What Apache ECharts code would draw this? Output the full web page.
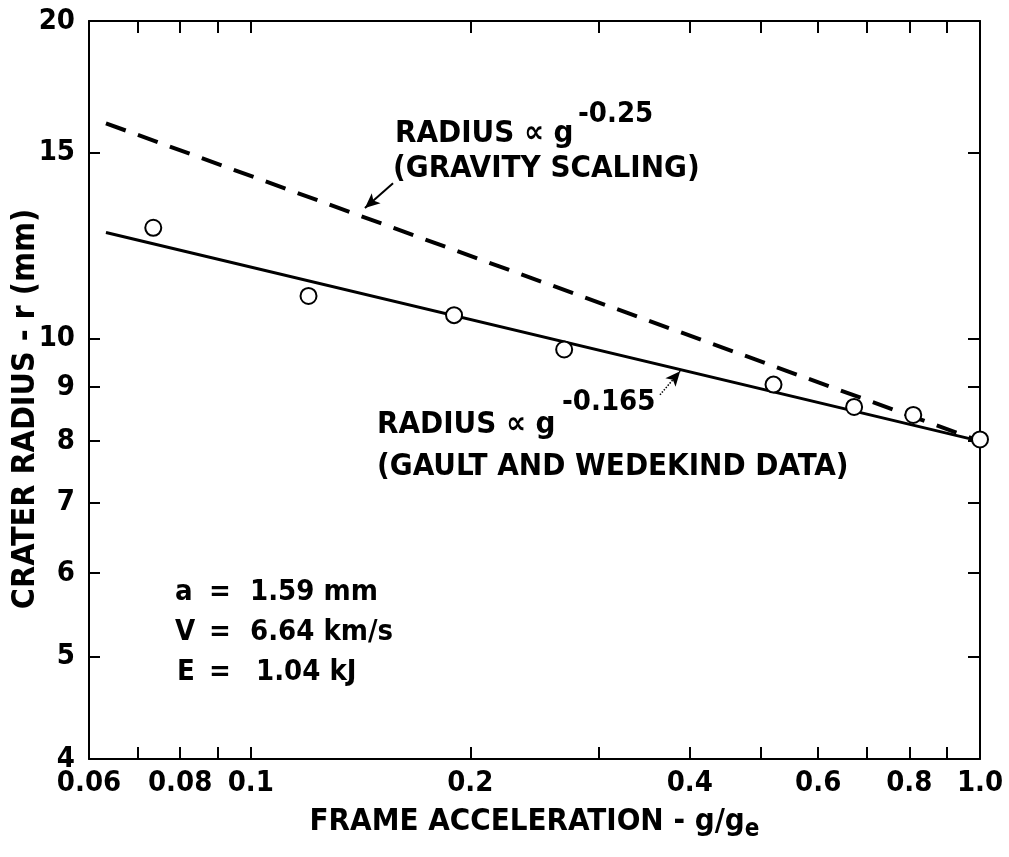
<!DOCTYPE html>
<html>
<head>
<meta charset="utf-8">
<script src="https://cdn.jsdelivr.net/npm/echarts@6/dist/echarts.min.js"></script>
<style>
  html, body { margin: 0; padding: 0; background: #fff; }
  #main { width: 1009px; height: 857px; }
</style>
</head>
<body>
<div id="main"></div>
<script>
// measured points (frame acceleration g/ge, crater radius mm)
const accel = [0.0735, 0.120, 0.190, 0.269, 0.521, 0.672, 0.810, 1.0];
const radius = [12.74, 10.98, 10.53, 9.77, 9.05, 8.62, 8.47, 8.03];

// fitted lines, end points
const fitG = [0.0633, 1.0];
const fitR = [12.61, 8.0];      // r ~ g^-0.165
const gravR = [16.0, 8.0];      // r ~ g^-0.25

// leader arrows [tail, tip]
const arrowGravity = [[0.1567, 14.04], [0.1434, 13.30]];
const arrowFit = [[0.364, 8.85], [0.388, 9.32]];

// axis ticks and labels
const xTicks = [0.07, 0.08, 0.09, 0.1, 0.2, 0.3, 0.4, 0.5, 0.6, 0.7, 0.8, 0.9];
const xLabels = [0.06, 0.08, 0.1, 0.2, 0.4, 0.6, 0.8, 1.0];
const yTicks = [5, 6, 7, 8, 9, 10, 15];
const yLabels = [4, 5, 6, 7, 8, 9, 10, 15, 20];

const FONT = 'DejaVu Sans Condensed';

document.addEventListener('DOMContentLoaded', function() {
    var chartDom = document.getElementById('main');
    var myChart = echarts.init(chartDom);

    const points = accel.map((g, i) => [g, radius[i]]);
    const fitLine = fitG.map((g, i) => [g, fitR[i]]);
    const gravLine = fitG.map((g, i) => [g, gravR[i]]);

    const axisLine = { show: true, lineStyle: { color: '#000', width: 2 } };
    const tickStyle = { color: '#000', width: 2 };

    const arrowLine = (pair, type) => [
        { coord: pair[0], symbol: 'none' },
        { coord: pair[1], symbol: 'arrow', symbolSize: [10, 15],
          lineStyle: { color: '#000', width: type === 'solid' ? 2 : 1.5, type: type } }
    ];

    const txt = (x, y, text, size, align) => ({
        type: 'text', x: x, y: y,
        style: { text: text, fill: '#000', font: 'bold ' + size + 'px "' + FONT + '"',
                 textAlign: align || 'left', textVerticalAlign: 'middle' }
    });

    var option = {
        animation: false,
        backgroundColor: '#fff',
        grid: { left: 89, right: 29, top: 21, bottom: 98 },
        xAxis: [
            {
                type: 'log', logBase: 10, min: 0.06, max: 1.0,
                position: 'bottom',
                axisLine: axisLine,
                axisTick: { show: true, inside: true, length: 12, lineStyle: tickStyle, customValues: xTicks },
                axisLabel: {
                    show: true, customValues: xLabels, margin: 10,
                    color: '#000', fontFamily: FONT, fontWeight: 'bold', fontSize: 29,
                    formatter: v => (v === 1 ? '1.0' : String(+v.toFixed(2)))
                },
                splitLine: { show: false },
                name: '{t|FRAME ACCELERATION - g/g}{s|e}',
                nameLocation: 'middle', nameGap: 43,
                nameTextStyle: {
                    rich: {
                        t: { fontFamily: FONT, fontWeight: 'bold', fontSize: 31, color: '#000' },
                        s: { fontFamily: FONT, fontWeight: 'bold', fontSize: 24, color: '#000', padding: [16, 0, 0, 0] }
                    }
                }
            },
            {
                type: 'log', logBase: 10, min: 0.06, max: 1.0,
                position: 'top',
                axisLine: axisLine,
                axisTick: { show: true, inside: true, length: 12, lineStyle: tickStyle, customValues: xTicks },
                axisLabel: { show: false },
                splitLine: { show: false }
            }
        ],
        yAxis: [
            {
                type: 'log', logBase: 10, min: 4, max: 20,
                position: 'left',
                axisLine: axisLine,
                axisTick: { show: true, inside: true, length: 11, lineStyle: tickStyle, customValues: yTicks },
                axisLabel: {
                    show: true, customValues: yLabels, margin: 14,
                    color: '#000', fontFamily: FONT, fontWeight: 'bold', fontSize: 29,
                    formatter: v => String(Math.round(v))
                },
                splitLine: { show: false }
            },
            {
                type: 'log', logBase: 10, min: 4, max: 20,
                position: 'right',
                axisLine: axisLine,
                axisTick: { show: true, inside: true, length: 12, lineStyle: tickStyle, customValues: yTicks },
                axisLabel: { show: false },
                splitLine: { show: false }
            }
        ],
        series: [
            {
                name: 'gravity scaling',
                type: 'line',
                data: gravLine,
                showSymbol: false,
                lineStyle: { color: '#000', width: 4, type: [21, 13] },
                z: 2,
                markLine: {
                    silent: true, symbol: ['none', 'arrow'],
                    label: { show: false },
                    data: [arrowLine(arrowGravity, 'solid'), arrowLine(arrowFit, 'dotted')]
                }
            },
            {
                name: 'fit',
                type: 'line',
                data: fitLine,
                showSymbol: false,
                lineStyle: { color: '#000', width: 3 },
                z: 3
            },
            {
                name: 'data',
                type: 'scatter',
                data: points,
                symbol: 'circle',
                symbolSize: 16,
                itemStyle: { color: '#fff', borderColor: '#000', borderWidth: 2, opacity: 1 },
                z: 5
            }
        ],
        graphic: [
            {
                type: 'text', x: 26, y: 409, rotation: Math.PI / 2,
                style: { text: 'CRATER RADIUS - r (mm)', fill: '#000', font: 'bold 32px "' + FONT + '"',
                         textAlign: 'center', textVerticalAlign: 'middle' }
            },
            txt(395, 134, 'RADIUS \u221d g', 31),
            txt(578, 114, '-0.25', 29),
            txt(393, 169, '(GRAVITY SCALING)', 31),
            txt(377, 425, 'RADIUS \u221d g', 31),
            txt(562, 402, '-0.165', 29),
            txt(377, 467, '(GAULT AND WEDEKIND DATA)', 31),
            txt(175, 592, 'a', 29),
            txt(175, 632, 'V', 29),
            txt(177, 672, 'E', 29),
            txt(209, 592, '=', 29),
            txt(209, 632, '=', 29),
            txt(209, 672, '=', 29),
            txt(250, 592, '1.59 mm', 29),
            txt(250, 632, '6.64 km/s', 29),
            txt(256, 672, '1.04 kJ', 29)
        ]
    };

    option && myChart.setOption(option);
});
</script>
</body>
</html>
